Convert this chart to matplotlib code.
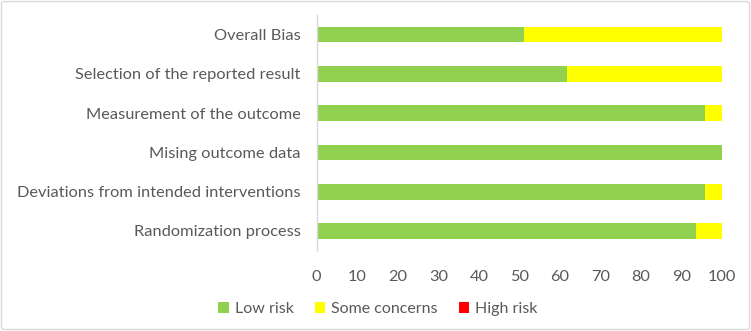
import matplotlib
matplotlib.use("Agg")
import matplotlib.pyplot as plt
from matplotlib.patches import FancyBboxPatch

categories = ["Randomization process", "Deviations from intended interventions",
              "Mising outcome data", "Measurement of the outcome",
              "Selection of the reported result", "Overall Bias"]
low_risk = [93.6, 95.7, 100.0, 95.7, 61.7, 51.1]
some_concerns = [6.4, 4.3, 0.0, 4.3, 38.3, 48.9]
high_risk = [0.0, 0.0, 0.0, 0.0, 0.0, 0.0]
series_names = ["Low risk", "Some concerns", "High risk"]
colors = ["#92d050", "#ffff00", "#ff0000"]
xticks = [0, 10, 20, 30, 40, 50, 60, 70, 80, 90, 100]

plt.rcParams['font.family'] = ['Lato', 'DejaVu Sans']
text_color = "#595959"

W, H = 751, 331
fig = plt.figure(figsize=(W / 100, H / 100), dpi=100)
ax = fig.add_axes([316.7 / W, 1 - 250.6 / H, (722.3 - 316.7) / W, (250.6 - 14.9) / H])

y = list(range(len(categories)))
left = [0] * len(categories)
for vals, name, c in zip([low_risk, some_concerns, high_risk], series_names, colors):
    ax.barh(y, vals, left=left, height=0.4, color=c, label=name)
    left = [a + b for a, b in zip(left, vals)]

ax.set_xlim(0, 100)
ax.set_ylim(-0.5, len(categories) - 0.5)
ax.set_yticks(y)
ax.set_yticklabels(categories, fontsize=11.8, color=text_color)
ax.set_xticks(xticks)
ax.set_xticklabels([str(t) for t in xticks], fontsize=11.8, color=text_color)
ax.tick_params(axis='both', length=0)
ax.tick_params(axis='y', pad=11.5)
ax.tick_params(axis='x', pad=14)
for s in ["top", "right", "bottom"]:
    ax.spines[s].set_visible(False)
ax.spines["left"].set_color("#d9d9d9")
ax.spines["left"].set_linewidth(1)

leg = fig.legend(loc="center", bbox_to_anchor=(378 / W, 1 - 309 / H), ncol=3,
                 frameon=False, fontsize=11.5, handlelength=0.65, handleheight=0.65,
                 handletextpad=0.4, columnspacing=1.3)
for t in leg.get_texts():
    t.set_color(text_color)

border = FancyBboxPatch((1.5 / W, 1.5 / H), 1 - 3 / W, 1 - 3 / H,
                        boxstyle="round,pad=0,rounding_size=0.005",
                        transform=fig.transFigure, fill=False,
                        edgecolor="#d9d9d9", linewidth=1)
fig.patches.append(border)

fig.savefig("out.png", dpi=100)
